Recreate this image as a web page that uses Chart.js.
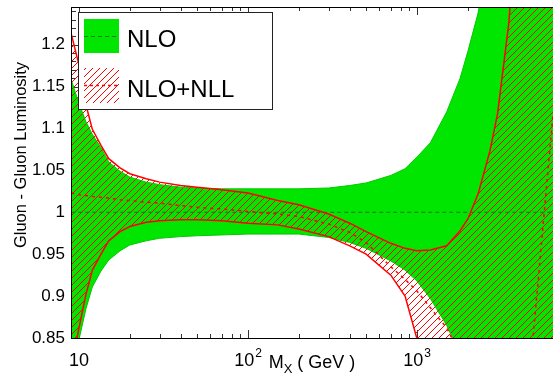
<!DOCTYPE html>
<html>
<head>
<meta charset="utf-8">
<script src="https://cdn.jsdelivr.net/npm/chart.js@4.4.1/dist/chart.umd.min.js"></script>
<style>
  html, body { margin: 0; padding: 0; background: #fff; }
  #wrap { position: relative; width: 553px; height: 376px; }
</style>
</head>
<body>
<div id="wrap"><canvas id="lumi"></canvas></div>
<script>
// invariant mass grid (GeV) shared by all curves
const massGeV = [9, 10, 11, 12, 13.5, 15, 17.5, 20, 25, 30,
                 40, 50, 70, 100, 150, 200, 300, 400, 500, 700,
                 850, 1000, 1200, 1500, 1800, 2000, 2300, 2700, 3000, 3500,
                 4000, 4500, 4860, 5300, 5900, 6400];

// NLO scale band (ratio to NLO central)
const nloHigh = [1.158, 1.130, 1.108, 1.093, 1.077, 1.060, 1.049, 1.042, 1.036, 1.033,
                 1.030, 1.029, 1.028, 1.028, 1.028, 1.028, 1.029, 1.032, 1.035, 1.044,
                 1.052, 1.066, 1.083, 1.120, 1.160, 1.192, 1.238, 1.32, 1.38, 1.48,
                 1.58, 1.68, 1.75, 1.84, 1.95, 2.05];
const nloLow = [0.800, 0.848, 0.885, 0.911, 0.930, 0.943, 0.954, 0.961, 0.966, 0.969,
                0.971, 0.972, 0.973, 0.974, 0.974, 0.974, 0.970, 0.964, 0.957, 0.942,
                0.931, 0.918, 0.897, 0.865, 0.830, 0.800, 0.760, 0.710, 0.680, 0.630,
                0.590, 0.550, 0.530, 0.500, 0.470, 0.450];
const nloCentralX = [9, 6400];
const nloCentral = [1.0, 1.0];

// NLO+NLL band and central value
const nllHigh = [1.213, 1.176, 1.128, 1.099, 1.080, 1.064, 1.053, 1.046, 1.040, 1.036,
                 1.032, 1.030, 1.027, 1.023, 1.014, 1.009, 0.998, 0.987, 0.977, 0.963,
                 0.957, 0.954, 0.955, 0.960, 0.978, 0.992, 1.022, 1.073, 1.118, 1.227,
                 1.40, 1.55, 1.65, 1.78, 1.95, 2.10];
const nllLow = [0.815, 0.862, 0.902, 0.931, 0.950, 0.966, 0.977, 0.983, 0.988, 0.990,
                0.991, 0.991, 0.990, 0.987, 0.985, 0.980, 0.971, 0.960, 0.950, 0.925,
                0.900, 0.849, 0.780, 0.700, 0.640, 0.600, 0.560, 0.520, 0.500, 0.470,
                0.450, 0.430, 0.420, 0.410, 0.400, 0.390];
const nllCentral = [1.023, 1.021, 1.020, 1.019, 1.018, 1.017, 1.015, 1.014, 1.012, 1.011,
                    1.008, 1.006, 1.004, 1.001, 0.998, 0.995, 0.986, 0.976, 0.964, 0.935,
                    0.920, 0.906, 0.886, 0.862, 0.830, 0.800, 0.760, 0.720, 0.700, 0.700,
                    0.730, 0.790, 0.850, 0.935, 1.040, 1.120];

// axis labelling
const xTickValues = [10, 100, 1000];
const xTickBases = ['10', '10', '10'];
const xTickExponents = ['', '2', '3'];

const FONT = '"Liberation Sans", Arial, Helvetica, sans-serif';
const GREEN = 'rgb(0,230,0)';
const RED = '#ff0000';
Chart.defaults.font.family = FONT;

function pts(xs, ys) {
    return xs.map((m, i) => ({ x: m, y: ys[i] }));
}

// diagonal red hatching used for the NLO+NLL band
function makeHatch(color, size) {
    const c = document.createElement('canvas');
    c.width = size;
    c.height = size;
    const g = c.getContext('2d');
    g.strokeStyle = color;
    g.lineWidth = 1;
    g.beginPath();
    g.moveTo(0, size); g.lineTo(size, 0);
    g.moveTo(-1, 1); g.lineTo(1, -1);
    g.moveTo(size - 1, size + 1); g.lineTo(size + 1, size - 1);
    g.stroke();
    return g.createPattern(c, 'repeat');
}
const hatch = makeHatch(RED, 7);

// inner ticks, box, labels and legend
const frame = {
    id: 'frame',
    beforeDraw(chart) {
        const { ctx, chartArea: a, scales: { x, y } } = chart;
        ctx.save();
        ctx.strokeStyle = '#333';
        ctx.lineWidth = 1;
        ctx.beginPath();
        for (let b = 1; b <= 1000; b *= 10) {
            for (let m = 1; m < 10; m++) {
                const v = b * m;
                if (v < x.min || v > x.max) continue;
                const len = m === 1 ? 8 : 4;
                const px = Math.round(x.getPixelForValue(v)) + 0.5;
                ctx.moveTo(px, a.bottom); ctx.lineTo(px, a.bottom - len);
                ctx.moveTo(px, a.top); ctx.lineTo(px, a.top + len);
            }
        }
        for (let k = 85; k <= 124; k++) {
            const py = Math.round(y.getPixelForValue(k / 100)) + 0.5;
            const len = k % 5 === 0 ? 8 : 5;
            ctx.moveTo(a.left, py); ctx.lineTo(a.left + len, py);
        }
        ctx.stroke();
        ctx.restore();
    },
    afterDraw(chart) {
        const { ctx, chartArea: a, scales: { x } } = chart;
        ctx.save();

        // box
        ctx.strokeStyle = '#000';
        ctx.lineWidth = 1;
        ctx.beginPath();
        ctx.moveTo(a.left + 0.5, a.bottom + 1);
        ctx.lineTo(a.left + 0.5, a.top + 0.5);
        ctx.lineTo(a.right, a.top + 0.5);
        ctx.moveTo(a.left, a.bottom + 0.5);
        ctx.lineTo(a.right, a.bottom + 0.5);
        ctx.stroke();

        // x tick labels with exponents
        ctx.fillStyle = '#000';
        ctx.textAlign = 'left';
        ctx.textBaseline = 'alphabetic';
        xTickValues.forEach((v, i) => {
            ctx.font = '18px ' + FONT;
            const wb = ctx.measureText(xTickBases[i]).width;
            ctx.font = '12px ' + FONT;
            const we = xTickExponents[i] ? ctx.measureText(xTickExponents[i]).width + 1 : 0;
            const left = x.getPixelForValue(v) - (wb + we) / 2;
            ctx.font = '18px ' + FONT;
            ctx.fillText(xTickBases[i], left, 366);
            if (xTickExponents[i]) {
                ctx.font = '12px ' + FONT;
                ctx.fillText(xTickExponents[i], left + wb + 1, 357);
            }
        });

        // x title: M_X ( GeV )
        ctx.font = '18px ' + FONT;
        const wM = ctx.measureText('M').width;
        const wRest = ctx.measureText(' ( GeV )').width;
        ctx.font = '13px ' + FONT;
        const wX = ctx.measureText('X').width;
        let tx = (a.left + a.right) / 2 - (wM + wX + wRest) / 2;
        ctx.font = '18px ' + FONT;
        ctx.fillText('M', tx, 368);
        ctx.font = '13px ' + FONT;
        ctx.fillText('X', tx + wM, 373);
        ctx.font = '18px ' + FONT;
        ctx.fillText(' ( GeV )', tx + wM + wX, 368);

        // y title
        ctx.save();
        ctx.translate(21, 155);
        ctx.rotate(-Math.PI / 2);
        ctx.textAlign = 'center';
        ctx.textBaseline = 'middle';
        ctx.font = '16.5px ' + FONT;
        ctx.fillText('Gluon - Gluon Luminosity', 0, 0);
        ctx.restore();

        // legend
        ctx.fillStyle = '#fff';
        ctx.fillRect(78, 12, 195, 98);
        ctx.strokeStyle = '#222';
        ctx.strokeRect(78.5, 12.5, 194, 97);

        ctx.fillStyle = GREEN;
        ctx.fillRect(84, 19, 35, 34);
        ctx.fillStyle = hatch;
        ctx.fillRect(84, 68, 35, 35);

        ctx.setLineDash([4, 3]);
        ctx.strokeStyle = '#207020';
        ctx.beginPath();
        ctx.moveTo(84, 36.5); ctx.lineTo(119, 36.5);
        ctx.stroke();
        ctx.setLineDash([3, 3]);
        ctx.strokeStyle = RED;
        ctx.lineWidth = 1.5;
        ctx.beginPath();
        ctx.moveTo(84, 85.5); ctx.lineTo(119, 85.5);
        ctx.stroke();
        ctx.setLineDash([]);

        ctx.fillStyle = '#000';
        ctx.font = '24px ' + FONT;
        ctx.fillText(chart.data.datasets[4].label, 127, 47);
        ctx.fillText(chart.data.datasets[1].label, 127, 97);
        ctx.restore();
    }
};

new Chart(document.getElementById('lumi'), {
    type: 'line',
    data: {
        datasets: [{
            label: 'NLO+NLL central',
            data: pts(massGeV, nllCentral),
            borderColor: RED,
            borderWidth: 1.5,
            borderDash: [3, 4],
            fill: false
        }, {
            label: 'NLO+NLL',
            data: pts(massGeV, nllHigh),
            borderColor: RED,
            borderWidth: 1.5,
            backgroundColor: hatch,
            fill: '+1'
        }, {
            label: 'NLO+NLL low',
            data: pts(massGeV, nllLow),
            borderColor: RED,
            borderWidth: 1.5,
            fill: false
        }, {
            label: 'NLO central',
            data: pts(nloCentralX, nloCentral),
            borderColor: '#207020',
            borderWidth: 1,
            borderDash: [4, 3],
            fill: false
        }, {
            label: 'NLO',
            data: pts(massGeV, nloHigh),
            borderColor: 'rgb(0,200,0)',
            borderWidth: 1,
            backgroundColor: GREEN,
            fill: '+1'
        }, {
            label: 'NLO low',
            data: pts(massGeV, nloLow),
            borderColor: 'rgb(0,200,0)',
            borderWidth: 1,
            fill: false
        }]
    },
    options: {
        responsive: true,
        maintainAspectRatio: false,
        animation: false,
        devicePixelRatio: 1,
        layout: { padding: { top: 7, right: 0, bottom: 0, left: 0 } },
        elements: { point: { radius: 0 }, line: { tension: 0 } },
        plugins: {
            legend: { display: false },
            tooltip: { enabled: false },
            filler: { drawTime: 'beforeDatasetsDraw' }
        },
        scales: {
            x: {
                type: 'logarithmic',
                min: 8.97,
                max: 6380,
                grid: { display: false, drawTicks: false },
                border: { display: false },
                ticks: { display: false },
                afterBuildTicks: s => { s.ticks = xTickValues.map(v => ({ value: v })); },
                afterFit: s => { s.height = 38; s.paddingLeft = 0; s.paddingRight = 0; }
            },
            y: {
                min: 0.85,
                max: 1.245,
                grid: { display: false, drawTicks: false },
                border: { display: false },
                ticks: {
                    stepSize: 0.05,
                    includeBounds: false,
                    padding: 6,
                    color: '#000',
                    font: { size: 17 },
                    callback: v => String(parseFloat(v.toFixed(2)))
                },
                afterFit: s => { s.width = 71; s.paddingTop = 0; s.paddingBottom = 0; }
            }
        }
    },
    plugins: [frame]
});
</script>
</body>
</html>
